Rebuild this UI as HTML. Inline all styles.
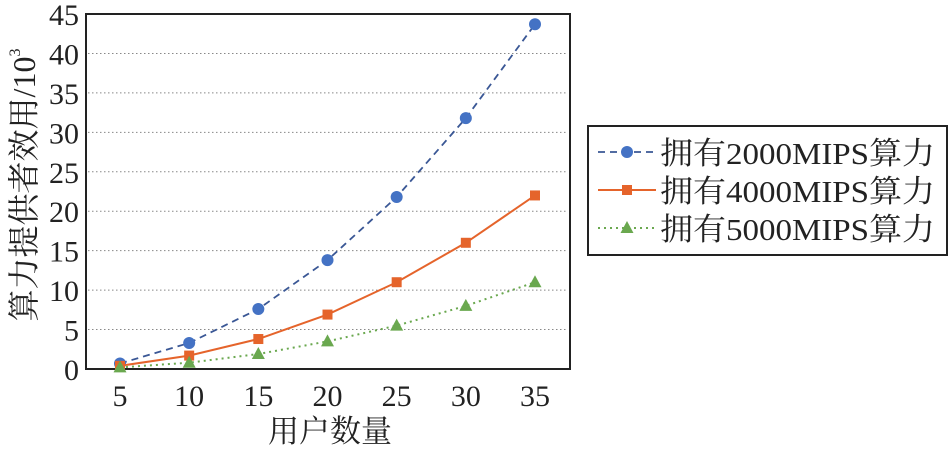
<!DOCTYPE html>
<html><head><meta charset="utf-8"><style>
body{margin:0;background:#fff;}
svg text{font-family:"Liberation Serif","Noto Serif CJK SC",serif;fill:#222;}
</style></head><body>
<svg width="950" height="446" xmlns="http://www.w3.org/2000/svg">
<g id="grid"></g>
<rect x="86" y="14" width="484" height="355" fill="none" stroke="#222" stroke-width="2"/>
<g id="yt"></g><g id="xt"></g><g id="series"></g>
<text x="330" y="442" font-size="31" text-anchor="middle">用户数量</text>
<text transform="translate(35,185) rotate(-90)" font-size="32" text-anchor="middle">算力提供者效用/10<tspan font-size="16" dy="-15">3</tspan></text>
<g>
<rect x="588" y="126" width="359" height="129" fill="#fff" stroke="#222" stroke-width="2"/>
<g id="leg"></g>
</g>
</svg>
<script>
const categories=[5,10,15,20,25,30,35];
const s2000=[0.7,3.3,7.6,13.8,21.8,31.8,43.7];
const s4000=[0.4,1.7,3.8,6.9,11,16,22];
const s5000=[0.2,0.8,1.9,3.5,5.5,8,11];
const yTicks=[0,5,10,15,20,25,30,35,40,45];
const names=["拥有2000MIPS算力","拥有4000MIPS算力","拥有5000MIPS算力"];
const NS="http://www.w3.org/2000/svg";
const X=v=>120+(v-5)*(415/30);
const Y=v=>369-v*(355/45);
function mk(t,a,p){const e=document.createElementNS(NS,t);for(const k in a)e.setAttribute(k,a[k]);p.appendChild(e);return e;}
const grid=document.getElementById('grid'),yt=document.getElementById('yt'),xt=document.getElementById('xt'),sg=document.getElementById('series'),leg=document.getElementById('leg');
yTicks.forEach(v=>{
 if(v>0&&v<45){const l=mk('line',{x1:88,x2:568,y1:Y(v),y2:Y(v),stroke:'#888','stroke-width':1,'stroke-dasharray':'1.5 2.5'},grid);
 
 }
 const t=mk('text',{x:79,y:Y(v)+11,'font-size':30,'text-anchor':'end'},yt);t.textContent=v;
 
 
});
categories.forEach(c=>{
 const t=mk('text',{x:X(c),y:406,'font-size':30,'text-anchor':'middle'},xt);t.textContent=c;
 
 
});
const cfg=[{d:s2000,c:'#3a5795',f:'#4472c4',dash:'7 5',m:'circle',w:1.8},{d:s4000,c:'#e5642b',f:'#e5642b',dash:'',m:'square',w:2},{d:s5000,c:'#6aa84f',f:'#6aa84f',dash:'2 4',m:'tri',w:2}];
function marker(m,x,y,f,p){
 if(m==='circle')return mk('circle',{cx:x,cy:y,r:6,fill:f},p);
 if(m==='square')return mk('rect',{x:x-5,y:y-5,width:10,height:10,fill:f},p);
 return mk('polygon',{points:`${x},${y-7} ${x-6.5},${y+5} ${x+6.5},${y+5}`,fill:f},p);
}
cfg.forEach((s,i)=>{
 const g=mk('g',{},sg);
 
 
 let d='';s.d.forEach((v,j)=>{d+=(j?'L':'M')+X(categories[j])+','+Y(v);});
 mk('path',{d:d,fill:'none',stroke:s.c,'stroke-width':s.w,'stroke-dasharray':s.dash},g);
 s.d.forEach((v,j)=>{const e=marker(s.m,X(categories[j]),Y(v),s.f,g);
  
  });
 const ly=152+i*38;
 mk('line',{x1:598,x2:656,y1:ly,y2:ly,stroke:s.c,'stroke-width':s.w,'stroke-dasharray':s.dash},leg);
 marker(s.m,627,ly,s.f,leg);
 const t=mk('text',{x:660,y:ly+12,'font-size':31,textLength:275,lengthAdjust:'spacingAndGlyphs'},leg);t.textContent=names[i];
 
 
});
</script>
</body></html>
